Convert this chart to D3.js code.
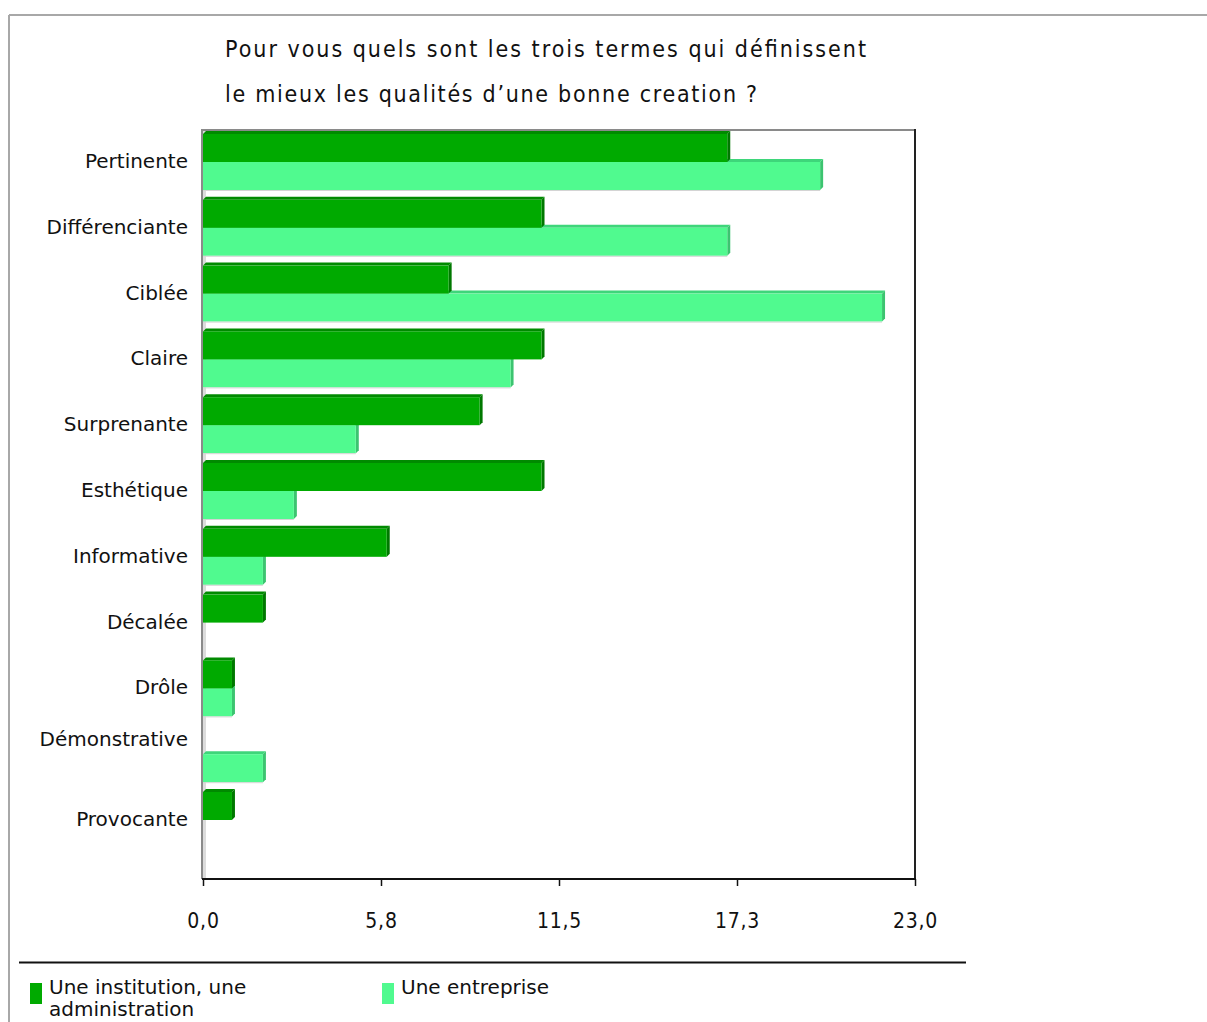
<!DOCTYPE html>
<html><head><meta charset="utf-8">
<script src="https://cdnjs.cloudflare.com/ajax/libs/d3/7.8.5/d3.min.js"></script>
<style>body{margin:0;background:#fff;} svg{display:block;}</style>
</head><body>
<svg id="chart" width="1207" height="1022"></svg>
<script>
const titleLines = ["Pour vous quels sont les trois termes qui définissent", "le mieux les qualités d\u2019une bonne creation ?"];
const categories = ["Pertinente","Différenciante","Ciblée","Claire","Surprenante","Esthétique","Informative","Décalée","Drôle","Démonstrative","Provocante"];
const seriesNames = ["Une institution, une administration", "Une entreprise"];
const institution = [17, 11, 8, 11, 9, 11, 6, 2, 1, 0, 1];
const entreprise = [20, 17, 22, 10, 5, 3, 2, 0, 1, 2, 0];
const tickValues = [0, 5.75, 11.5, 17.25, 23];
const tickLabels = ["0,0", "5,8", "11,5", "17,3", "23,0"];

const colors = [
  {face:"#00aa00", top:"#008a00", side:"#007800"},
  {face:"#50fa8f", top:"#3ed67a", side:"#3cc470"}
];

const svg = d3.select("#chart");
const W = 1207, H = 1022;
const plot = {l:202, r:915, t:130, b:879};
const depth = 3;

// outer frame
svg.append("line").attr("x1",9).attr("x2",W).attr("y1",15).attr("y2",15).attr("stroke","#a8a8a8").attr("stroke-width",2);
svg.append("line").attr("x1",9).attr("x2",9).attr("y1",15).attr("y2",H).attr("stroke","#a8a8a8").attr("stroke-width",2);

// title
const titleLens = [641, 532];
svg.selectAll("text.title").data(titleLines).enter().append("text")
  .attr("class","title")
  .attr("x",225).attr("y",(d,i)=>57+i*45)
  .attr("textLength",(d,i)=>titleLens[i]).attr("lengthAdjust","spacing")
  .attr("font-family","DejaVu Sans Condensed, DejaVu Sans, sans-serif").attr("font-size",23)
  .attr("fill","#111").text(d=>d);

const x = d3.scaleLinear().domain([0,23]).range([plot.l+1, plot.r]);
const y = d3.scaleBand().domain(categories).range([131, 131+65.8*11]).paddingInner(0).paddingOuter(0);
const ySub = d3.scaleBand().domain([0,1]).range([depth, depth+56]);

// wall depth strip
svg.append("rect").attr("x",plot.l+1).attr("y",plot.t).attr("width",depth).attr("height",plot.b-plot.t).attr("fill","#dcdcdc");

const data = categories.map((c,i)=>({cat:c, vals:[institution[i], entreprise[i]]}));

const g = svg.append("g");
data.forEach(d=>{
  [1,0].forEach(s=>{
    const v = d.vals[s];
    if (v <= 0) return;
    const c = colors[s];
    const top = y(d.cat) + ySub(s);
    const h = ySub.bandwidth();
    const x0 = x(0);
    const x1 = x(v) - 2;
    const bg = g.append("g");
    bg.append("polygon").attr("points",[[x0,top],[x0+depth,top-depth],[x1+depth,top-depth],[x1,top]].map(p=>p.join(",")).join(" ")).attr("fill",c.top);
    bg.append("polygon").attr("points",[[x1,top],[x1+depth,top-depth],[x1+depth,top+h-depth],[x1,top+h]].map(p=>p.join(",")).join(" ")).attr("fill",c.side);
    bg.append("rect").attr("x",x0).attr("y",top).attr("width",x1-x0).attr("height",h).attr("fill",c.face);
    if (s===1) {
      bg.append("line").attr("x1",x0).attr("x2",x1).attr("y1",top+h+0.5).attr("y2",top+h+0.5).attr("stroke","#d4d4d4").attr("stroke-width",1);
    }
  });
});

// plot borders
svg.append("line").attr("x1",plot.l).attr("x2",plot.r).attr("y1",plot.t).attr("y2",plot.t).attr("stroke","#8a8a8a").attr("stroke-width",2);
svg.append("line").attr("x1",plot.l).attr("x2",plot.l).attr("y1",plot.t-1).attr("y2",plot.b).attr("stroke","#8a8a8a").attr("stroke-width",2);
svg.append("line").attr("x1",plot.r).attr("x2",plot.r).attr("y1",plot.t-1).attr("y2",plot.b).attr("stroke","#222").attr("stroke-width",2);

// x axis
const xAxis = d3.axisBottom(x).tickValues(tickValues).tickSize(7).tickSizeOuter(0).tickFormat((d,i)=>tickLabels[i]);
const ax = svg.append("g").attr("transform",`translate(0,${plot.b})`).call(xAxis);
ax.select(".domain").attr("stroke","#111").attr("stroke-width",2).attr("d",`M${plot.l},0H${plot.r+1}`);
ax.selectAll(".tick line").attr("stroke","#111").attr("stroke-width",1.5);
ax.selectAll(".tick text").attr("y",49).attr("dy",0)
  .attr("font-family","DejaVu Sans Condensed, DejaVu Sans, sans-serif").attr("font-size",21).attr("letter-spacing",0.8)
  .attr("fill","#111");

// category labels
svg.selectAll("text.cat").data(categories).enter().append("text")
  .attr("class","cat")
  .attr("x",188)
  .attr("y",d=>y(d)+y.bandwidth()/2+4 + (d==="Démonstrative" ? -14 : 0))
  .attr("text-anchor","end")
  .attr("font-family","DejaVu Sans, Verdana, sans-serif").attr("font-size",20)
  .attr("fill","#111").text(d=>d);

// legend
svg.append("line").attr("x1",19).attr("x2",966).attr("y1",962.5).attr("y2",962.5).attr("stroke","#111").attr("stroke-width",2);
const legX = [30, 382];
const leg = svg.selectAll("g.leg").data(seriesNames).enter().append("g").attr("class","leg")
  .attr("transform",(d,i)=>`translate(${legX[i]},0)`);
leg.append("rect").attr("x",0).attr("y",983).attr("width",12).attr("height",21).attr("fill",(d,i)=>colors[i].face);
leg.each(function(d,i){
  const t = d3.select(this).append("text")
    .attr("font-family","DejaVu Sans, Verdana, sans-serif").attr("font-size",20).attr("fill","#111");
  const lines = i===0 ? ["Une institution, une","administration"] : [d];
  lines.forEach((ln,k)=>t.append("tspan").attr("x",19).attr("y",994+k*22).text(ln));
});
</script>
</body></html>
